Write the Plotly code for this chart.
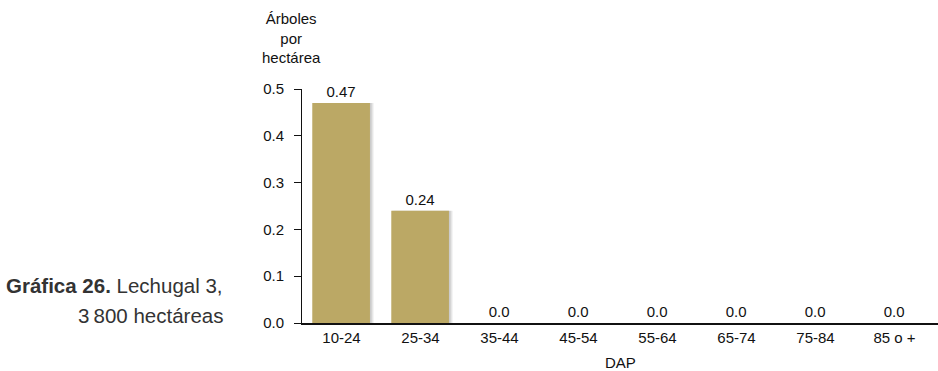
import plotly.graph_objects as go

categories = ["10-24", "25-34", "35-44", "45-54", "55-64", "65-74", "75-84", "85 o +"]
trees_per_ha = [0.47, 0.24, 0.0, 0.0, 0.0, 0.0, 0.0, 0.0]
y_ticks = [0.0, 0.1, 0.2, 0.3, 0.4, 0.5]

labels = [f"{v:.2f}" if v else "0.0" for v in trees_per_ha]
font = "Liberation Sans, Arial, sans-serif"

fig = go.Figure()
# soft shadow behind the bars
for off, alpha in [(-0.33, 0.05), (-0.345, 0.07), (-0.36, 0.09)]:
    fig.add_trace(go.Bar(
        x=categories, y=trees_per_ha, width=0.74, offset=off,
        marker=dict(color=f"rgba(0,0,0,{alpha})", line=dict(width=0)),
        hoverinfo="skip", showlegend=False,
    ))
fig.add_trace(go.Bar(
    x=categories, y=trees_per_ha, width=0.73, offset=-0.37,
    marker=dict(color="#BBA865", line=dict(width=0)),
    text=labels, textposition="outside", cliponaxis=False,
    textfont=dict(size=15, color="#111"), showlegend=False,
))

fig.update_layout(
    width=938, height=371,
    margin=dict(l=302, r=0, t=89, b=48),
    plot_bgcolor="white", paper_bgcolor="white",
    barmode="overlay",
    font=dict(family=font, size=15, color="#111"),
    xaxis=dict(
        showline=True, linecolor="#111", linewidth=1.6, ticks="",
        showgrid=False, tickfont=dict(size=15), range=[-0.5, 7.55],
    ),
    yaxis=dict(
        range=[0, 0.5], tickvals=y_ticks, ticktext=[f"{t:.1f}" for t in y_ticks],
        showline=True, linecolor="#111", linewidth=1, ticks="outside",
        ticklen=7, tickcolor="#111", showgrid=False, zeroline=False,
        tickfont=dict(size=15), ticklabelstandoff=7,
    ),
    annotations=[
        dict(text="Árboles<br>por<br>hectárea", xref="paper", yref="paper",
             x=-0.016, y=1.218, xanchor="center", yanchor="middle",
             showarrow=False, align="center", font=dict(size=15)),
        dict(text="DAP", xref="paper", yref="paper", x=0.5, y=-0.167,
             xanchor="center", yanchor="middle", showarrow=False, font=dict(size=15)),
        dict(text="<b>Gráfica 26.</b> Lechugal 3,", xref="paper", yref="paper",
             x=-0.121, y=0.162, xanchor="right", yanchor="middle",
             showarrow=False, font=dict(size=20.5, color="#333")),
        dict(text="3\u2009800 hectáreas", xref="paper", yref="paper",
             x=-0.121, y=0.034, xanchor="right", yanchor="middle",
             showarrow=False, font=dict(size=20.5, color="#333")),
    ],
)

fig.write_html("out.html", config={"displayModeBar": False},
               post_script="document.body.style.margin='0';")
